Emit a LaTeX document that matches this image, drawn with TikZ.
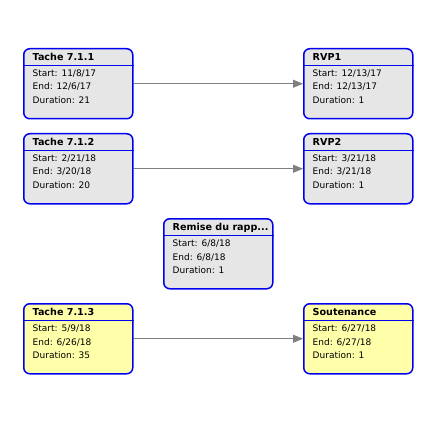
\documentclass[tikz,border=0pt]{standalone}
\usepackage{fontspec}
\setmainfont{DejaVu Sans}
\usetikzlibrary{arrows.meta,positioning}
\definecolor{boxgray}{HTML}{E6E6E6}
\definecolor{boxyellow}{HTML}{FFFFAA}
\definecolor{boxblue}{HTML}{0000EE}
\definecolor{arrgray}{HTML}{808080}
\tikzset{
  task/.style={draw=boxblue, line width=1.5pt, rounded corners=6pt, minimum width=109pt, minimum height=70pt, inner sep=0pt, anchor=north west},
  ttl/.style={anchor=base west, font=\fontsize{9.6}{11}\selectfont\bfseries, inner sep=0pt},
  info/.style={anchor=base west, font=\fontsize{9}{11}\selectfont, inner sep=0pt},
  link/.style={draw=arrgray, line width=0.8pt, -{Triangle[length=10pt,width=8pt]}}
}
\newcommand{\taskbox}[7]{%
  \node[task, fill=#3] (#1) at (#2) {};
  \draw[boxblue, line width=0.8pt] ([yshift=-17.5pt]#1.north west) -- ([yshift=-17.5pt]#1.north east);
  \node[ttl] (#1t) at ([xshift=9.5pt,yshift=-12.8pt]#1.north west) {#4};
  \node[info] (#1s) at ([xshift=9.5pt,yshift=-28.8pt]#1.north west) {#5};
  \node[info] (#1e) at ([xshift=9.5pt,yshift=-42pt]#1.north west) {#6};
  \node[info] (#1d) at ([xshift=9.5pt,yshift=-55.5pt]#1.north west) {#7};
}
\begin{document}
\begin{tikzpicture}[x=1pt,y=-1pt]
\useasboundingbox (0,0) rectangle (431,438);
\taskbox{a}{23,48}{boxgray}{Tache 7.1.1}{Start: 11/8/17}{End: 12/6/17}{Duration: 21}
\taskbox{b}{303,48}{boxgray}{RVP1}{Start: 12/13/17}{End: 12/13/17}{Duration: 1}
\taskbox{c}{23,133}{boxgray}{Tache 7.1.2}{Start: 2/21/18}{End: 3/20/18}{Duration: 20}
\taskbox{d}{303,133}{boxgray}{RVP2}{Start: 3/21/18}{End: 3/21/18}{Duration: 1}
\taskbox{e}{163,218}{boxgray}{Remise du rapp...}{Start: 6/8/18}{End: 6/8/18}{Duration: 1}
\taskbox{f}{23,303}{boxyellow}{Tache 7.1.3}{Start: 5/9/18}{End: 6/26/18}{Duration: 35}
\taskbox{g}{303,303}{boxyellow}{Soutenance}{Start: 6/27/18}{End: 6/27/18}{Duration: 1}
\draw[link] (a.east) -- (b.west);
\draw[link] (c.east) -- (d.west);
\draw[link] (f.east) -- (g.west);
\end{tikzpicture}
\end{document}
